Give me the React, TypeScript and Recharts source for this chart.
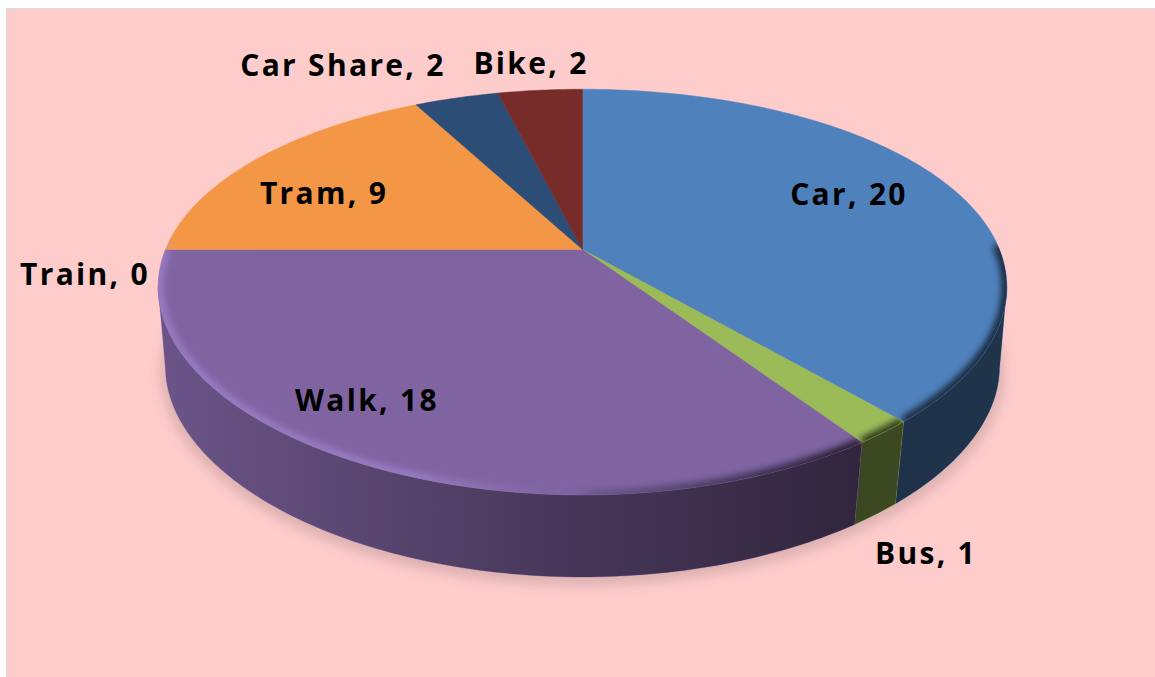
import { Pie, PieChart } from "recharts";

const categories = ["Car", "Bus", "Walk", "Train", "Tram", "Car Share", "Bike"];
const values = [20, 1, 18, 0, 9, 2, 2];
const colors = ["#4f81bd", "#9bbb59", "#8064a2", "#4bacc6", "#f39645", "#2c4d75", "#772c2a"];

const rows = categories.map((name, i) => ({ name, value: values[i], fill: colors[i] }));
const shadowRow = [{ name: "shadow", value: 1 }];

// where the labels sit in the picture (text centres)
const labelSpots = [
	[849, 193],
	[926, 552],
	[367, 399],
	[85, 273],
	[324, 192],
	[343, 64],
	[531, 62],
];

const FLATTEN = 0.465;
const PERSPECTIVE_X = 0.185;
const PERSPECTIVE_Y = 0.21;
const LOWER_SCALE_X = 0.985;
const LOWER_PERSPECTIVE_X = 0.173;
const LOWER_DROP = 82;
// angles (clockwise from top) where the rim turns away from the viewer
const WALL_FROM = 100.5;
const WALL_TO = 259.5;

const project = (cx: number, cy: number, r: number, deg: number, lower = false, grow = 1, extraDrop = 0) => {
	const t = (deg * Math.PI) / 180;
	const kx = lower ? LOWER_PERSPECTIVE_X : PERSPECTIVE_X;
	const sx = lower ? LOWER_SCALE_X : 1;
	const x = cx + (grow * sx * r * Math.sin(t)) / (1 + kx * Math.cos(t));
	const y = cy + (lower ? LOWER_DROP : 0) + extraDrop - (grow * r * FLATTEN * Math.cos(t)) / (1 + PERSPECTIVE_Y * Math.cos(t));
	return `${x.toFixed(2)} ${y.toFixed(2)}`;
};

const arc = (cx: number, cy: number, r: number, from: number, to: number, lower = false, grow = 1, extraDrop = 0) => {
	const steps = Math.max(1, Math.ceil(Math.abs(to - from)));
	const pts: string[] = [];
	for (let i = 0; i <= steps; i++) {
		pts.push(project(cx, cy, r, from + ((to - from) * i) / steps, lower, grow, extraDrop));
	}
	return pts;
};

const ShadowShape = (props: any) => {
	const { cx, cy, outerRadius } = props;
	const outline = arc(cx, cy, outerRadius, 0, 360, true, 1.012, 6);
	return (
		<g>
			<defs>
				<filter id="soft" filterUnits="userSpaceOnUse" x="0" y="0" width="1155" height="677">
					<feGaussianBlur stdDeviation="6" />
				</filter>
				<filter id="rimBlur" filterUnits="userSpaceOnUse" x="0" y="0" width="1155" height="677">
					<feGaussianBlur stdDeviation="3" />
				</filter>
				<linearGradient id="wallShade" gradientUnits="userSpaceOnUse" x1="160" y1="0" x2="1005" y2="0">
					<stop offset="0" stopColor="#000" stopOpacity="0.16" />
					<stop offset="0.5" stopColor="#000" stopOpacity="0.46" />
					<stop offset="0.82" stopColor="#000" stopOpacity="0.62" />
					<stop offset="1" stopColor="#000" stopOpacity="0.6" />
				</linearGradient>
				<linearGradient id="rimShade" gradientUnits="userSpaceOnUse" x1="160" y1="0" x2="1005" y2="0">
					<stop offset="0" stopColor="#c9a6ff" stopOpacity="0.34" />
					<stop offset="0.3" stopColor="#c9a6ff" stopOpacity="0.34" />
					<stop offset="0.46" stopColor="#c9a6ff" stopOpacity="0" />
					<stop offset="0.52" stopColor="#000" stopOpacity="0.15" />
					<stop offset="0.8" stopColor="#000" stopOpacity="0.65" />
					<stop offset="1" stopColor="#000" stopOpacity="0.65" />
				</linearGradient>
			</defs>
			<path d={`M${outline.join("L")}Z`} fill="#000" fillOpacity={0.13} filter="url(#soft)" />
		</g>
	);
};

const WallShape = (props: any) => {
	const { cx, cy, outerRadius, startAngle, endAngle, fill } = props;
	const from = Math.max(90 - startAngle, WALL_FROM);
	const to = Math.min(90 - endAngle, WALL_TO);
	if (to <= from) return <g />;
	const top = arc(cx, cy, outerRadius, from, to);
	const bottom = arc(cx, cy, outerRadius, to, from, true);
	const d = `M${[...top, ...bottom].join("L")}Z`;
	return (
		<g>
			<path d={d} fill={fill} stroke={fill} strokeWidth={0.5} />
			<path d={d} fill="url(#wallShade)" />
		</g>
	);
};

const FaceShape = (props: any) => {
	const { cx, cy, outerRadius, startAngle, endAngle, fill, index } = props;
	const from = 90 - startAngle;
	const to = 90 - endAngle;
	if (to <= from) return <g />;
	const edge = arc(cx, cy, outerRadius, from, to);
	const d = `M${cx} ${cy}L${edge.join("L")}Z`;
	const rimFrom = Math.max(from, WALL_FROM - 12);
	const rimTo = Math.min(to, 272);
	return (
		<g>
			<clipPath id={`face-${index}`}>
				<path d={d} />
			</clipPath>
			<path d={d} fill={fill} stroke={fill} strokeWidth={0.5} />
			{rimTo > rimFrom && (
				<g clipPath={`url(#face-${index})`}>
					<path
						d={`M${arc(cx, cy, outerRadius, rimFrom, rimTo).join("L")}`}
						fill="none"
						stroke="url(#rimShade)"
						strokeWidth={11}
						filter="url(#rimBlur)"
					/>
				</g>
			)}
		</g>
	);
};

const renderLabel = (props: any) => {
	const spot = labelSpots[props.index];
	return (
		<text
			x={spot[0]}
			y={spot[1]}
			textAnchor="middle"
			dominantBaseline="central"
			fontFamily='"Comic Sans MS", "Open Sans", sans-serif'
			fontWeight={700}
			fontSize={30}
			letterSpacing={2.3}
			fill="#000"
		>
			{`${categories[props.index]}, ${values[props.index]}`}
		</text>
	);
};

const App = () => {
	return (
		<div style={{ position: "absolute", left: 0, top: 0, width: 1155, height: 677, background: "#fff", overflow: "hidden" }}>
			<div
				style={{
					position: "absolute",
					left: 6,
					top: 8,
					width: 1160,
					height: 680,
					background: "#ffcccc",
					border: "1px solid #d9d9d9",
				}}
			/>
			<div style={{ position: "absolute", left: 0, top: 0 }}>
				<PieChart width={1155} height={677} margin={{ top: 0, right: 0, bottom: 0, left: 0 }}>
					<Pie
						data={shadowRow}
						dataKey="value"
						cx={582.5}
						cy={249.5}
						outerRadius={417}
						startAngle={90}
						endAngle={-270}
						shape={ShadowShape}
						isAnimationActive={false}
						legendType="none"
					/>
					<Pie
						data={rows}
						dataKey="value"
						nameKey="name"
						cx={582.5}
						cy={249.5}
						outerRadius={417}
						startAngle={90}
						endAngle={-270}
						shape={WallShape}
						isAnimationActive={false}
					/>
					<Pie
						data={rows}
						dataKey="value"
						nameKey="name"
						cx={582.5}
						cy={249.5}
						outerRadius={417}
						startAngle={90}
						endAngle={-270}
						shape={FaceShape}
						label={renderLabel}
						labelLine={false}
						isAnimationActive={false}
					/>
				</PieChart>
			</div>
		</div>
	);
};

export default App;
